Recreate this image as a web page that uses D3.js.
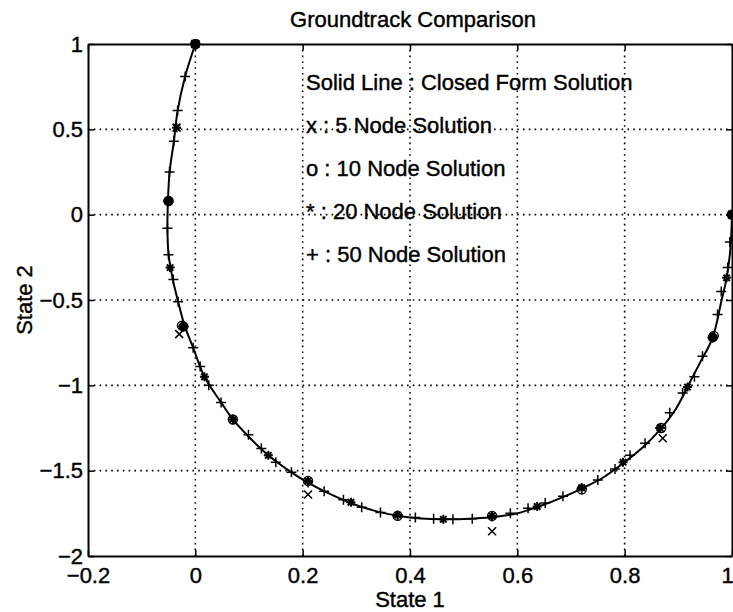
<!DOCTYPE html>
<html>
<head>
<meta charset="utf-8">
<script src="https://cdn.jsdelivr.net/npm/d3@7"></script>
<style>
  body { margin: 0; background: #fff; }
  text { font-family: "Liberation Sans", Arial, Helvetica, sans-serif; stroke: #000; stroke-width: 0.4px; }
</style>
</head>
<body>
<svg id="chart" width="733" height="612"></svg>
<script>
// Groundtrack comparison: closed form vs N-node solutions

// ticks
const xTicks = [-0.2, 0, 0.2, 0.4, 0.6, 0.8, 1];
const yTicks = [-2, -1.5, -1, -0.5, 0, 0.5, 1];

// closed form solution (solid line), [state1, state2]
const closedForm = [
    [0, 1], [-0.019, 0.81], [-0.033, 0.61], [-0.04, 0.43], [-0.048, 0.25],
    [-0.051, 0.08], [-0.052, -0.08], [-0.05, -0.23], [-0.042, -0.38], [-0.032, -0.51],
    [-0.02, -0.65], [-0.004, -0.78], [0.017, -0.95], [0.048, -1.10], [0.07, -1.2],
    [0.099, -1.30], [0.136, -1.41], [0.179, -1.51], [0.21, -1.57], [0.24, -1.62],
    [0.29, -1.69], [0.34, -1.74], [0.38, -1.765], [0.42, -1.78], [0.46, -1.785],
    [0.52, -1.78], [0.56, -1.77], [0.60, -1.75], [0.64, -1.71], [0.685, -1.655],
    [0.72, -1.605], [0.76, -1.54], [0.80, -1.45], [0.835, -1.36], [0.866, -1.26],
    [0.895, -1.14], [0.917, -1.01], [0.94, -0.87], [0.964, -0.72], [0.98, -0.51],
    [0.99, -0.37], [0.997, -0.2], [1.0, 0]
];

// 5 node solution (x)
const node5 = [
    [0, 1], [-0.035, 0.51], [-0.03, -0.70], [0.21, -1.64],
    [0.553, -1.855], [0.871, -1.31], [1, 0]
];

// 10 node solution (o)
const node10 = [
    [0, 1], [-0.05, 0.08], [-0.025, -0.65], [0.07, -1.2], [0.21, -1.56],
    [0.377, -1.765], [0.553, -1.765], [0.72, -1.61], [0.868, -1.25],
    [0.966, -0.71], [1, 0]
];

// 20 node solution (*)
const node20 = [
    [0, 1], [-0.035, 0.51], [-0.05, 0.08], [-0.047, -0.31], [-0.022, -0.655],
    [0.017, -0.95], [0.07, -1.2], [0.136, -1.41], [0.21, -1.56], [0.29, -1.685],
    [0.377, -1.76], [0.462, -1.785], [0.553, -1.765], [0.637, -1.71], [0.72, -1.60],
    [0.797, -1.45], [0.866, -1.25], [0.917, -1.01], [0.964, -0.72], [0.99, -0.37],
    [1, 0]
];

// 50 node solution (+)
const node50 = [
    [0, 1], [-0.019, 0.81], [-0.033, 0.61], [-0.04, 0.43], [-0.048, 0.25],
    [-0.051, 0.08], [-0.052, -0.08], [-0.05, -0.235], [-0.041, -0.38], [-0.032, -0.51],
    [-0.022, -0.655], [-0.004, -0.78], [0.009, -0.89], [0.025, -1.0], [0.048, -1.10],
    [0.07, -1.2], [0.099, -1.29], [0.123, -1.37], [0.15, -1.45], [0.179, -1.51],
    [0.21, -1.57], [0.24, -1.62], [0.276, -1.67], [0.31, -1.715], [0.345, -1.745],
    [0.377, -1.765], [0.41, -1.775], [0.444, -1.782], [0.48, -1.785], [0.516, -1.782],
    [0.553, -1.768], [0.587, -1.75], [0.62, -1.72], [0.652, -1.69], [0.685, -1.65],
    [0.72, -1.605], [0.75, -1.555], [0.782, -1.49], [0.81, -1.41], [0.838, -1.34],
    [0.866, -1.25], [0.884, -1.16], [0.908, -1.045], [0.93, -0.95], [0.945, -0.83],
    [0.964, -0.72], [0.973, -0.585], [0.98, -0.45], [0.992, -0.31], [0.996, -0.16],
    [1, 0]
];

// points where all solutions sit on top of each other (drawn as heavy dots)
const overlapPts = [[0, 1], [-0.05, 0.08], [-0.022, -0.655], [0.964, -0.72], [1, 0]];

const legendLines = [
    "Solid Line : Closed Form Solution",
    "x : 5 Node Solution",
    "o : 10 Node Solution",
    "* : 20 Node Solution",
    "+ : 50 Node Solution"
];

// layout
const plotLeft = 88, plotRight = 732, plotTop = 44, plotBottom = 556;
const fontSize = 22;

const svg = d3.select("#chart");

const x = d3.scaleLinear().domain([-0.2, 1]).range([plotLeft, plotRight]);
const y = d3.scaleLinear().domain([-2, 1]).range([plotBottom, plotTop]);

// grid (dotted)
const grid = svg.append("g")
    .attr("stroke", "#000")
    .attr("stroke-width", 1.6)
    .attr("stroke-dasharray", "1.6,4.2");

grid.selectAll(".gx")
    .data(xTicks.slice(1, -1))
    .enter().append("line")
    .attr("x1", (d) => x(d)).attr("x2", (d) => x(d))
    .attr("y1", plotTop).attr("y2", plotBottom);

grid.selectAll(".gy")
    .data(yTicks.slice(1, -1))
    .enter().append("line")
    .attr("y1", (d) => y(d)).attr("y2", (d) => y(d))
    .attr("x1", plotLeft).attr("x2", plotRight);

// axes, ticks inside like matlab
const fmt = (d) => d3.format("")(d).replace("-", "\u2212");

const xAxis = svg.append("g")
    .attr("transform", `translate(0,${plotBottom})`)
    .call(d3.axisBottom(x).tickValues(xTicks).tickFormat(fmt).tickSize(-6).tickSizeOuter(0).tickPadding(11));

// last label sits on the window edge, nudge it in
xAxis.selectAll(".tick text").filter((d) => d === 1).attr("dx", -5);

const yAxis = svg.append("g")
    .attr("transform", `translate(${plotLeft},0)`)
    .call(d3.axisLeft(y).tickValues(yTicks).tickFormat(fmt).tickSize(-6).tickSizeOuter(0).tickPadding(5));

const topAxis = svg.append("g")
    .attr("transform", `translate(0,${plotTop})`)
    .call(d3.axisTop(x).tickValues(xTicks).tickFormat("").tickSize(-6).tickSizeOuter(0));

const rightAxis = svg.append("g")
    .attr("transform", `translate(${plotRight},0)`)
    .call(d3.axisRight(y).tickValues(yTicks).tickFormat("").tickSize(-6).tickSizeOuter(0));

[xAxis, yAxis, topAxis, rightAxis].forEach((a) => {
    a.attr("font-family", null).attr("font-size", null);
    a.select(".domain").attr("stroke-width", 2);
    a.selectAll(".tick line").attr("stroke-width", 1.5);
    a.selectAll("text").style("font-size", fontSize + "px").attr("fill", "#000");
});

// closed form line
const line = d3.line()
    .x((d) => x(d[0]))
    .y((d) => y(d[1]))
    .curve(d3.curveCatmullRom);

svg.append("path")
    .datum(closedForm)
    .attr("d", line)
    .attr("fill", "none")
    .attr("stroke", "#000")
    .attr("stroke-width", 2);

// markers
const markerPaths = {
    x: "M-4,-4L4,4M-4,4L4,-4",
    plus: "M-5,0H5M0,-5V5",
    star: "M-4.5,0H4.5M0,-4.5V4.5M-3.2,-3.2L3.2,3.2M-3.2,3.2L3.2,-3.2"
};

const drawMarks = (data, cls, path, width) => {
    svg.append("g")
        .selectAll("." + cls)
        .data(data)
        .enter().append("path")
        .attr("class", cls)
        .attr("transform", (d) => `translate(${x(d[0])},${y(d[1])})`)
        .attr("d", path)
        .attr("fill", "none")
        .attr("stroke", "#000")
        .attr("stroke-width", width);
};

drawMarks(node50, "m50", markerPaths.plus, 1.5);
drawMarks(node20, "m20", markerPaths.star, 2);
drawMarks(node5, "m5", markerPaths.x, 1.5);

svg.append("g")
    .selectAll(".m10")
    .data(node10)
    .enter().append("circle")
    .attr("class", "m10")
    .attr("cx", (d) => x(d[0]))
    .attr("cy", (d) => y(d[1]))
    .attr("r", 4.5)
    .attr("fill", "none")
    .attr("stroke", "#000")
    .attr("stroke-width", 1.4);

svg.append("g")
    .selectAll(".ov")
    .data(overlapPts)
    .enter().append("circle")
    .attr("class", "ov")
    .attr("cx", (d) => x(d[0]))
    .attr("cy", (d) => y(d[1]))
    .attr("r", 5)
    .attr("fill", "#000");

// legend text inside axes
svg.append("g")
    .selectAll("text")
    .data(legendLines)
    .enter().append("text")
    .attr("x", 306)
    .attr("y", (d, i) => 90 + i * 43)
    .style("font-size", fontSize + "px")
    .text((d) => d);

// title and labels
svg.append("text")
    .attr("x", 413).attr("y", 27)
    .attr("text-anchor", "middle")
    .style("font-size", fontSize + "px")
    .text("Groundtrack Comparison");

svg.append("text")
    .attr("x", 410).attr("y", 607)
    .attr("text-anchor", "middle")
    .style("font-size", fontSize + "px")
    .text("State 1");

svg.append("text")
    .attr("transform", "translate(32,300) rotate(-90)")
    .attr("text-anchor", "middle")
    .style("font-size", fontSize + "px")
    .text("State 2");
</script>
</body>
</html>
